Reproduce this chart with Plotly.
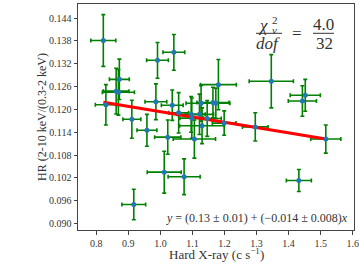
import plotly.graph_objects as go

# ---- data ----
hard_rate = [0.822, 0.830, 0.862, 0.869, 0.872, 0.911, 0.958, 0.991, 0.986, 1.042,
             1.037, 1.057, 1.181, 1.127, 1.164, 1.173, 1.096, 1.122, 1.098, 1.146,
             1.199, 1.130, 1.023, 1.106, 1.346, 1.452, 1.443, 1.296, 1.516, 1.012,
             1.074, 0.917, 1.432]
hard_err = [0.039, 0.033, 0.040, 0.050, 0.031, 0.028, 0.031, 0.034, 0.034, 0.034,
            0.034, 0.031, 0.056, 0.047, 0.050, 0.044, 0.044, 0.044, 0.037, 0.044,
            0.037, 0.070, 0.041, 0.066, 0.069, 0.047, 0.044, 0.040, 0.047, 0.053,
            0.050, 0.037, 0.039]
hr = [0.1381, 0.1212, 0.1248, 0.1245, 0.1279, 0.1174, 0.1145, 0.1329, 0.1220, 0.1350,
      0.1211, 0.1191, 0.1265, 0.1216, 0.1218, 0.1216, 0.1187, 0.1187, 0.1177, 0.1176,
      0.1164, 0.1157, 0.1127, 0.1122, 0.1274, 0.1237, 0.1222, 0.1154, 0.1122, 0.1035,
      0.1023, 0.0950, 0.1013]
hr_err = [0.0068, 0.0053, 0.0060, 0.0060, 0.0053, 0.0050, 0.0042, 0.0047, 0.0047, 0.0047,
          0.0040, 0.0053, 0.0066, 0.0047, 0.0040, 0.0040, 0.0047, 0.0053, 0.0053, 0.0047,
          0.0032, 0.0047, 0.0045, 0.0050, 0.0070, 0.0042, 0.0040, 0.0037, 0.0037, 0.0055,
          0.0047, 0.0040, 0.0029]

fit_intercept = 0.1333
fit_slope = -0.0139

x_ticks = [0.8, 0.9, 1.0, 1.1, 1.2, 1.3, 1.4, 1.5, 1.6]
x_ticklabels = ["0.8", "0.9", "1.0", "1.1", "1.2", "1.3", "1.4", "1.5", "1.6"]
y_ticks = [0.090, 0.096, 0.102, 0.108, 0.114, 0.120, 0.126, 0.132, 0.138, 0.144]

chi2_text = "4.0"
dof_text = "32"
fit_label = "<i>y</i> = (0.13 ± 0.01) + (−0.014 ± 0.008)<i>x</i>"
x_title = "Hard X-ray (c s<sup>−1</sup>)"
y_title = "HR (2-10 keV/(0.3-2 keV)"

# ---- figure ----
FONT = "Liberation Serif"
TXT = "#333333"

fig = go.Figure()

# error bars
fig.add_trace(go.Scatter(
    x=hard_rate, y=hr, mode="markers",
    marker=dict(size=1, color="green"),
    error_x=dict(type="data", array=hard_err, color="green", thickness=1.6, width=2),
    error_y=dict(type="data", array=hr_err, color="green", thickness=1.6, width=2),
    showlegend=False, hoverinfo="skip"))

# fit line
xl = [min(hard_rate), max(hard_rate)]
yl = [fit_intercept + fit_slope * v for v in xl]
fig.add_trace(go.Scatter(x=xl, y=yl, mode="lines",
                         line=dict(color="red", width=3), showlegend=False))

# points
fig.add_trace(go.Scatter(x=hard_rate, y=hr, mode="markers",
                         marker=dict(size=5, color="#1f77b4"), showlegend=False))


def px2paper(px, py):
    return (px - 78) / 276, (230 - py) / 226


annots = []
shapes = []
big = 17
small = 11
for (px, py, txt, sz) in [(263, 25, "<i>χ</i>", big),
                          (275, 19.5, "2", small),
                          (274.5, 30, "<i>ν</i>", small),
                          (268, 43.5, "<i>dof</i>", big),
                          (296.5, 33.5, "=", big),
                          (323.5, 24.5, chi2_text, big),
                          (324, 43.5, dof_text, big)]:
    xp, yp = px2paper(px, py)
    annots.append(dict(x=xp, y=yp, xref="paper", yref="paper", text=txt,
                       showarrow=False, xanchor="center", yanchor="middle",
                       font=dict(family=FONT, size=sz, color=TXT)))
for (x0, x1) in [(256, 282), (313, 334)]:
    a0, b0 = px2paper(x0, 33.3)
    a1, _ = px2paper(x1, 33.3)
    shapes.append(dict(type="line", xref="paper", yref="paper", x0=a0, x1=a1,
                       y0=b0, y1=b0, line=dict(color=TXT, width=1)))

xp, yp = px2paper(350, 218)
annots.append(dict(x=xp, y=yp, xref="paper", yref="paper", text=fit_label,
                   showarrow=False, xanchor="right", yanchor="middle",
                   font=dict(family=FONT, size=12, color=TXT)))

# axis titles
xp, yp = px2paper(216, 253.5)
annots.append(dict(x=xp, y=yp, xref="paper", yref="paper", text=x_title,
                   showarrow=False, xanchor="center", yanchor="middle",
                   font=dict(family=FONT, size=13, color=TXT)))
xp, yp = px2paper(42, 117)
annots.append(dict(x=xp, y=yp, xref="paper", yref="paper", text=y_title,
                   showarrow=False, xanchor="center", yanchor="middle", textangle=-90,
                   font=dict(family=FONT, size=12, color=TXT)))

axis_common = dict(showline=True, linecolor="#444444", linewidth=1, mirror=True,
                   ticks="outside", ticklen=3.5, tickwidth=1, tickcolor="#444444",
                   showgrid=False, zeroline=False, automargin=False,
                   tickfont=dict(family=FONT, size=10, color=TXT))

fig.update_layout(
    width=359, height=269,
    margin=dict(l=78, r=5, t=4, b=39),
    paper_bgcolor="white", plot_bgcolor="white",
    xaxis=dict(range=[0.743, 1.604], tickvals=x_ticks, ticktext=x_ticklabels,
               **axis_common),
    yaxis=dict(range=[0.0883, 0.1477], tickvals=y_ticks, tickformat=".3f",
               **axis_common),
    annotations=annots, shapes=shapes,
)

fig.write_html("out.html", config={"displayModeBar": False},
               post_script="document.body.style.margin='0';document.body.style.overflow='hidden';")
